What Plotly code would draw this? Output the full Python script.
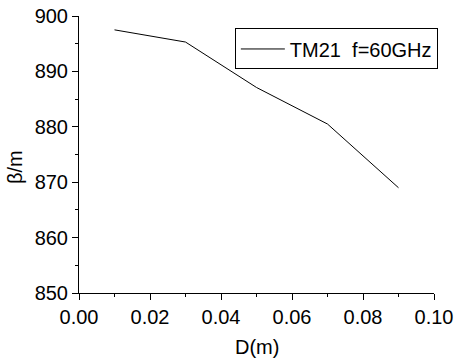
import plotly.graph_objects as go

D = [0.01, 0.03, 0.05, 0.07, 0.09]
beta = [897.5, 895.3, 887.1, 880.5, 869.0]
series_name = "TM21  f=60GHz"
x_title = "D(m)"
y_title = "β/m"

fig = go.Figure()
fig.add_trace(go.Scatter(x=D, y=beta, mode="lines", name=series_name,
                         line=dict(color="black", width=1)))

font = dict(family="Liberation Sans, Arial, sans-serif", color="black")
axis_common = dict(showgrid=False, zeroline=False, showline=True, linecolor="black",
                   linewidth=1, ticks="outside", ticklen=6, tickcolor="black",
                   tickfont=dict(size=20, **font), mirror=False, automargin=False,
                   ticklabeloverflow="allow")
fig.update_xaxes(range=[0, 0.1], dtick=0.02, tickformat=".2f",
                 minor=dict(dtick=0.01, ticklen=3, ticks="outside", tickcolor="black"),
                 **axis_common)
fig.update_yaxes(range=[850, 900], dtick=10,
                 minor=dict(dtick=5, ticklen=3, ticks="outside", tickcolor="black"),
                 **axis_common)
fig.add_annotation(text=x_title, xref="paper", yref="paper", x=0.5, y=-0.195,
                   xanchor="center", yanchor="middle", showarrow=False,
                   font=dict(size=20, **font))
fig.add_annotation(text=y_title, xref="paper", yref="paper", x=-0.18, y=0.455,
                   xanchor="center", yanchor="middle", showarrow=False, textangle=-90,
                   font=dict(size=20, **font))
fig.update_layout(
    width=456, height=362,
    margin=dict(l=79, r=22, t=16, b=69),
    plot_bgcolor="white", paper_bgcolor="white",
    showlegend=True,
    legend=dict(x=0.439, y=0.955, xanchor="left", yanchor="top",
                bordercolor="black", borderwidth=1, bgcolor="white",
                font=dict(size=20, **font), tracegroupgap=0,
                itemwidth=44),
)
fig.write_html("out.html", config={"displayModeBar": False},
               post_script="document.body.style.margin='0px';")
